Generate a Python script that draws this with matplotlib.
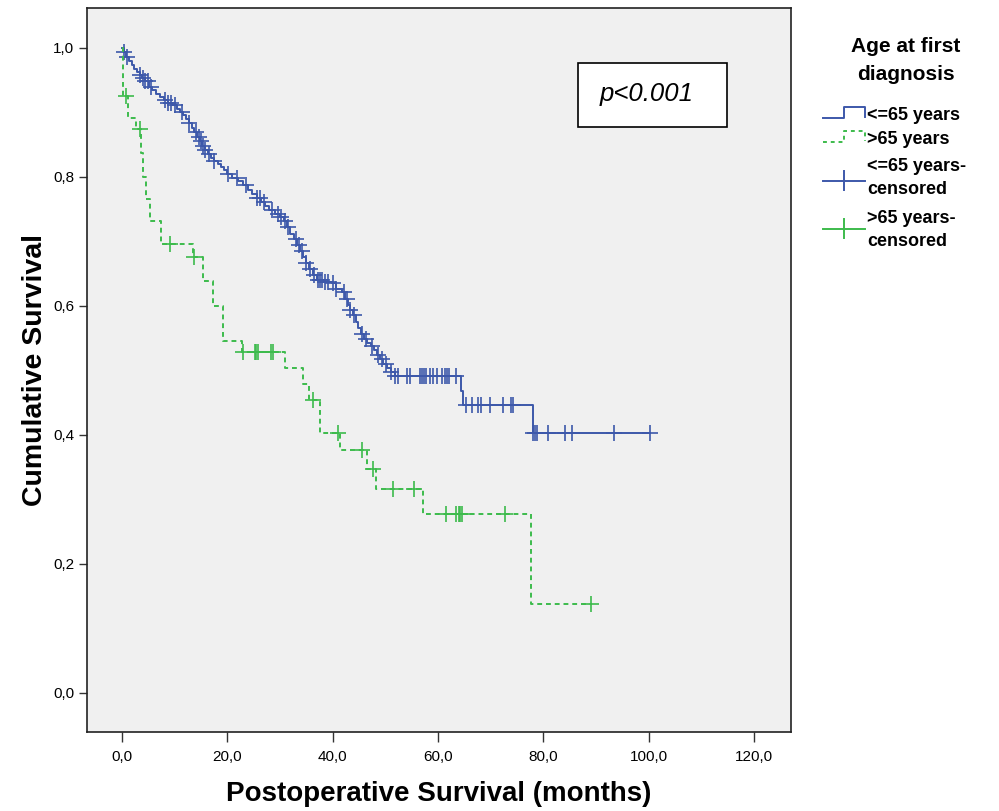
import matplotlib
matplotlib.use("Agg")
import matplotlib.pyplot as plt
import numpy as np
from matplotlib.lines import Line2D
from matplotlib.patches import Rectangle
from matplotlib.ticker import FuncFormatter

plt.rcParams['font.family'] = ['Liberation Sans', 'DejaVu Sans']

# Kaplan-Meier steps, age <= 65 years
young_times = [0, 0.4, 0.9, 1.4, 1.9, 2.4, 2.9, 3.4, 3.9, 4.5,
               5.2, 5.8, 6.5, 7.3, 8.1, 8.8, 9.6, 10.4, 11.0, 11.6,
               12.2, 12.8, 13.3, 13.8, 14.3, 14.8, 15.3, 15.8, 16.4, 17.0,
               17.6, 18.2, 18.8, 19.4, 20.0, 21.0, 22.0, 23.0, 24.0, 24.8,
               25.6, 26.4, 27.2, 28.0, 29.0, 30.0, 30.8, 31.4, 32.0, 32.6,
               33.2, 33.8, 34.4, 35.0, 35.6, 36.3, 37.0, 38.2, 39.8, 40.6,
               41.8, 42.4, 42.9, 43.4, 43.9, 44.4, 44.9, 45.4, 46.0, 46.6,
               47.2, 47.8, 48.4, 49.0, 49.6, 50.3, 51.0, 51.8, 64.4, 64.8,
               78.0]
young_surv = [1.0, 0.993, 0.986, 0.979, 0.973, 0.968, 0.963, 0.958, 0.953, 0.948,
              0.940, 0.934, 0.929, 0.924, 0.920, 0.915, 0.911, 0.906, 0.901, 0.896,
              0.890, 0.883, 0.876, 0.869, 0.862, 0.855, 0.848, 0.842, 0.836, 0.830,
              0.825, 0.820, 0.815, 0.810, 0.804, 0.799, 0.793, 0.787, 0.780, 0.773,
              0.767, 0.761, 0.755, 0.748, 0.742, 0.737, 0.731, 0.722, 0.712, 0.703,
              0.694, 0.685, 0.676, 0.667, 0.657, 0.648, 0.640, 0.637, 0.635, 0.626,
              0.621, 0.611, 0.601, 0.594, 0.586, 0.575, 0.565, 0.556, 0.549, 0.543,
              0.537, 0.531, 0.524, 0.517, 0.510, 0.503, 0.497, 0.491, 0.468, 0.446,
              0.402]
young_censored = [0.5, 1.0, 3.5, 4.0, 4.5, 5.0, 5.5, 8.2, 8.8, 9.4, 10.2, 11.4, 12.8, 14.0,
                  14.6, 15.0, 15.4, 15.8, 16.6, 17.6, 20.2, 21.8, 23.6, 25.6, 26.2, 27.0,
                  28.6, 29.6, 30.2, 31.0, 31.6, 33.0, 33.6, 34.2, 35.0, 35.8, 36.4, 37.2,
                  37.6, 38.0, 38.6, 39.2, 40.0, 40.6, 42.2, 42.8, 43.4, 44.0, 45.6, 46.4,
                  47.4, 48.6, 49.4, 50.2, 51.0, 51.8, 52.5, 54.1, 54.6, 56.6, 56.9, 57.3,
                  57.7, 58.5, 59.1, 59.9, 60.7, 61.3, 61.7, 62.0, 63.4, 65.4, 66.4, 67.6,
                  68.1, 69.9, 72.4, 73.9, 74.3, 78.1, 78.4, 78.7, 80.9, 84.1, 85.4, 93.3,
                  100.3]

# Kaplan-Meier steps, age > 65 years
old_times = [0, 0.3, 1.1, 2.7, 3.6, 4.0, 4.6, 5.3, 7.4, 13.6, 15.5, 17.4, 19.3, 22.8,
             31.0, 34.4, 35.6, 37.7, 41.4, 46.6, 48.2, 57.1, 77.6]
old_surv = [1.0, 0.925, 0.891, 0.875, 0.837, 0.80, 0.765, 0.731, 0.696, 0.676, 0.639,
            0.600, 0.546, 0.528, 0.503, 0.478, 0.454, 0.403, 0.377, 0.347, 0.316, 0.277,
            0.138]
old_censored = [0.8, 3.5, 9.2, 13.8, 23.1, 25.3, 25.5, 25.8, 28.4, 28.7, 36.3, 41.1, 45.5,
                47.6, 51.5, 55.4, 61.5, 63.5, 63.9, 64.2, 64.5, 72.7, 89.0]

legend_labels = ['<=65 years', '>65 years', '<=65 years-\ncensored', '>65 years-\ncensored']

blue = '#3d58aa'
green = '#3dbb4c'


def km_curve(ax, times, surv, censored, color, ls):
    t = np.array(times + [max(censored)])
    s = np.array(surv + [surv[-1]])
    ax.step(t, s, where='post', color=color, lw=1.4, ls=ls)
    c = np.array(censored)
    idx = np.searchsorted(np.array(times), c, side='right') - 1
    cs = np.array(surv)[idx]
    ax.plot(c, cs, ls='none', marker='+', ms=11, mew=1.2, color=color)


fig = plt.figure(figsize=(9.99, 8.11), dpi=100)
ax = fig.add_axes([0.087, 0.0974, 0.705, 0.8928])
ax.set_facecolor('#f0f0f0')

km_curve(ax, young_times, young_surv, young_censored, blue, '-')
km_curve(ax, old_times, old_surv, old_censored, green, (0, (2.5, 2)))

ax.set_xlim(-6.6, 127.0)
ax.set_ylim(-0.061, 1.062)
ax.set_xticks(np.arange(0, 121, 20))
ax.set_yticks(np.arange(0, 1.01, 0.2))
comma = FuncFormatter(lambda v, p: ('%.1f' % v).replace('.', ','))
ax.xaxis.set_major_formatter(comma)
ax.yaxis.set_major_formatter(comma)
ax.tick_params(axis='both', direction='out', labelsize=11, color='#333333', width=1)
ax.tick_params(axis='x', length=7, pad=6)
ax.tick_params(axis='y', length=6, pad=3)
for sp in ax.spines.values():
    sp.set_color('#222222')
    sp.set_linewidth(1.2)

ax.set_xlabel('Postoperative Survival (months)', fontsize=20, fontweight='bold', labelpad=12)
ax.set_ylabel('Cumulative Survival', fontsize=20.5, fontweight='bold', labelpad=4)

# p-value box
fx = lambda px: px / 999
fy = lambda py: 1 - py / 811
fig.add_artist(Rectangle((fx(578), fy(127)), fx(727) - fx(578), fy(63) - fy(127),
                         transform=fig.transFigure, facecolor='white',
                         edgecolor='black', lw=1.2))
fig.text(fx(647), fy(94), 'p<0.001', fontsize=18.5, style='italic', ha='center', va='center')

# legend
fig.text(fx(906), fy(47), 'Age at first', fontsize=15, fontweight='bold', ha='center', va='center')
fig.text(fx(906), fy(74), 'diagnosis', fontsize=15, fontweight='bold', ha='center', va='center')

step_x = [823, 844, 844, 865, 865]
fig.add_artist(Line2D([fx(v) for v in step_x], [fy(v) for v in [118, 118, 107, 107, 117]],
                      transform=fig.transFigure, color=blue, lw=1.4))
fig.add_artist(Line2D([fx(v) for v in step_x], [fy(v) for v in [142, 142, 131, 131, 141]],
                      transform=fig.transFigure, color=green, lw=1.4, ls=(0, (2, 2))))
for yc, col in [(181, blue), (229, green)]:
    fig.add_artist(Line2D([fx(823), fx(865)], [fy(yc), fy(yc)],
                          transform=fig.transFigure, color=col, lw=1.4))
    fig.add_artist(Line2D([fx(844), fx(844)], [fy(yc - 10), fy(yc + 9)],
                          transform=fig.transFigure, color=col, lw=1.4))

for label, yc in zip(legend_labels, [115, 140, 178, 230]):
    fig.text(fx(867), fy(yc), label, fontsize=13, fontweight='bold', ha='left',
             va='center', linespacing=1.45)

fig.savefig('out.png', dpi=100)
